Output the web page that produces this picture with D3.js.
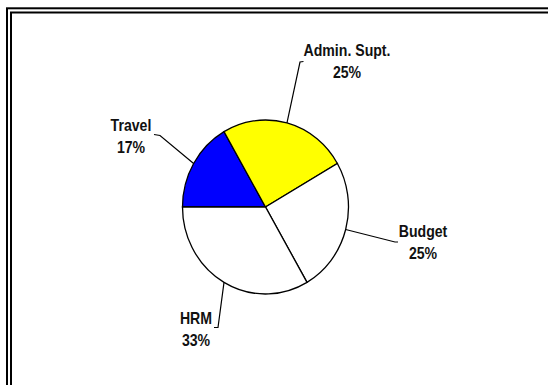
<!DOCTYPE html>
<html>
<head>
<meta charset="utf-8">
<script src="https://cdn.jsdelivr.net/npm/d3@7"></script>
<style>
  html, body { margin: 0; padding: 0; background: #fff; overflow: hidden; }
  text { font-family: "Liberation Sans", Arial, sans-serif; font-weight: bold; fill: #111; }
</style>
</head>
<body>
<script>
// Chart data
const categories = ["Travel", "Admin. Supt.", "Budget", "HRM"];
const values = [2, 3, 3, 4];
const percentLabels = ["17%", "25%", "25%", "33%"];
const sliceColors = ["#0000FF", "#FFFF00", "#FFFFFF", "#FFFFFF"];

// Layout
const W = 548, H = 385;
const cx = 265.5, cy = 207;
const rx = 83, ry = 87;

// where each label goes, and where its leader line bends
const labelLayout = {
  "Travel":       { x: 131, y: 130.5, elbow: [160, 135.5], end: [154, 134.5] },
  "Admin. Supt.": { x: 347, y: 56,    elbow: [300, 62],    end: [303.5, 61.5] },
  "Budget":       { x: 423, y: 236.5, elbow: [395, 242],   end: [398, 242] },
  "HRM":          { x: 196, y: 323.5, elbow: [218, 327.5], end: [214, 327.5] }
};

const svg = d3.select("body")
  .append("svg")
  .attr("width", W)
  .attr("height", H);

// double frame (only top and left edges fall inside the picture)
svg.append("rect")
  .attr("x", 7).attr("y", 8.3)
  .attr("width", 700).attr("height", 500)
  .attr("fill", "none").attr("stroke", "#000").attr("stroke-width", 2);
svg.append("rect")
  .attr("x", 11).attr("y", 12.5)
  .attr("width", 700).attr("height", 500)
  .attr("fill", "none").attr("stroke", "#000").attr("stroke-width", 2);

const data = categories.map((c, i) => ({
  name: c, value: values[i], pct: percentLabels[i], color: sliceColors[i]
}));

const pie = d3.pie()
  .sort(null)
  .value(d => d.value)
  .startAngle(-Math.PI / 2)
  .endAngle(1.5 * Math.PI);

const arcs = pie(data);

const arc = d3.arc().innerRadius(0).outerRadius(rx);

// pie is a little taller than wide
const pieG = svg.append("g")
  .attr("transform", `translate(${cx},${cy}) scale(1,${ry / rx})`);

pieG.selectAll("path")
  .data(arcs)
  .enter()
  .append("path")
  .attr("d", arc)
  .attr("fill", d => d.data.color)
  .attr("stroke", "#000")
  .attr("stroke-width", 1.3)
  .attr("vector-effect", "non-scaling-stroke");

// leader lines from the rim at each slice's middle angle
arcs.forEach(a => {
  const mid = (a.startAngle + a.endAngle) / 2;
  const ex = cx + rx * Math.sin(mid);
  const ey = cy - ry * Math.cos(mid);
  const lay = labelLayout[a.data.name];
  svg.append("polyline")
    .attr("points", [[ex, ey], lay.elbow, lay.end].map(p => p.join(",")).join(" "))
    .attr("fill", "none")
    .attr("stroke", "#000")
    .attr("stroke-width", 1.2);

  // narrow bold face, squeezed horizontally
  const g = svg.append("g")
    .attr("transform", `translate(${lay.x},${lay.y}) scale(0.84,1)`);
  g.append("text")
    .attr("text-anchor", "middle")
    .style("font-size", "16.8px")
    .text(a.data.name);
  g.append("text")
    .attr("y", 22.5)
    .attr("text-anchor", "middle")
    .style("font-size", "16.8px")
    .text(a.data.pct);
});
</script>
</body>
</html>
